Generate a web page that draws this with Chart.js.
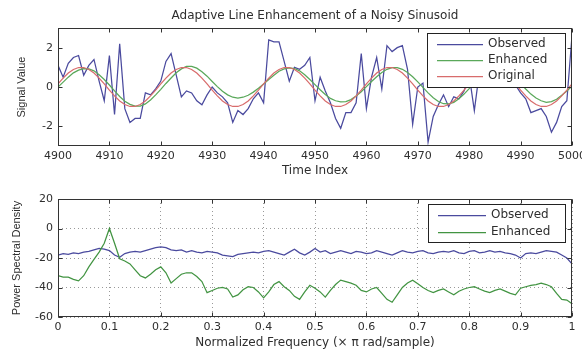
<!DOCTYPE html>
<html>
<head>
<meta charset="utf-8">
<script src="https://cdn.jsdelivr.net/npm/chart.js@4.4.1/dist/chart.umd.min.js"></script>
<style>
    html, body { margin: 0; padding: 0; background: #fff; }
    #wrap { position: relative; width: 582px; height: 351px; }
    #signalChart { position: absolute; left: 0; top: 0; }
    #psdChart { position: absolute; left: 0; top: 180px; }
</style>
</head>
<body>
<div id="wrap">
    <canvas id="signalChart" width="582" height="180"></canvas>
    <canvas id="psdChart" width="582" height="171"></canvas>
</div>
<script>
// --- Datos ---
const timeStart = 4900;
const timeTicks = [4900, 4910, 4920, 4930, 4940, 4950, 4960, 4970, 4980, 4990, 5000];
const signalTicks = [-2, 0, 2];

const observed = [
    1.1, 0.5, 1.2, 1.5, 1.6, 0.6, 1.1, 1.4, 0.3, -0.7,
    1.6, -1.4, 2.2, -1.1, -1.8, -1.6, -1.6, -0.3, -0.4, -0.1,
    0.3, 1.3, 1.7, 0.6, -0.5, -0.2, -0.3, -0.7, -0.9, -0.4,
    0.0, -0.3, -0.5, -0.8, -1.8, -1.2, -1.4, -1.1, -0.6, -0.3,
    -0.8, 2.4, 2.3, 2.3, 1.3, 0.3, 1.0, 0.9, 1.1, 1.5,
    -0.7, 0.5, -0.2, -0.8, -1.6, -2.1, -1.3, -1.3, -0.8, 1.7,
    -1.1, 0.5, 1.5, -0.1, 2.1, 1.8, 2.0, 2.1, 0.9, -1.9,
    0.0, 0.2, -2.8, -1.5, -0.9, -0.4, -1.0, -0.5, -0.6, -0.2,
    0.6, -1.2, 0.8, 1.5, 1.2, 2.0, 1.6, 0.9, 0.6, 0.1,
    -0.3, -0.6, -1.3, -1.2, -1.1, -1.5, -2.3, -1.8, -1.0, -0.7,
    2.6
];
const enhanced = [
    0.0, 0.25, 0.5, 0.72, 0.86, 0.93, 0.92, 0.82, 0.62, 0.38,
    0.1, -0.2, -0.48, -0.72, -0.88, -0.97, -0.97, -0.86, -0.66, -0.4,
    -0.12, 0.18, 0.46, 0.72, 0.92, 1.05, 1.05, 0.96, 0.78, 0.55,
    0.28, 0.02, -0.22, -0.4, -0.52, -0.56, -0.52, -0.42, -0.26, -0.06,
    0.15, 0.38, 0.6, 0.8, 0.92, 0.97, 0.94, 0.82, 0.62, 0.38,
    0.12, -0.14, -0.38, -0.58, -0.7, -0.76, -0.74, -0.64, -0.46, -0.24,
    0.02, 0.28, 0.52, 0.74, 0.9, 0.98, 0.98, 0.9, 0.74, 0.52,
    0.26, -0.02, -0.3, -0.55, -0.74, -0.85, -0.86, -0.78, -0.6, -0.36,
    -0.08, 0.22, 0.5, 0.74, 0.9, 0.98, 0.97, 0.88, 0.7, 0.46,
    0.18, -0.1, -0.36, -0.56, -0.7, -0.78, -0.74, -0.62, -0.42, -0.2,
    0.04
];
const original = [
    0.16, 0.45, 0.71, 0.89, 0.99, 0.99, 0.89, 0.71, 0.45, 0.16,
    -0.16, -0.45, -0.71, -0.89, -0.99, -0.99, -0.89, -0.71, -0.45, -0.16,
    0.16, 0.45, 0.71, 0.89, 0.99, 0.99, 0.89, 0.71, 0.45, 0.16,
    -0.16, -0.45, -0.71, -0.89, -0.99, -0.99, -0.89, -0.71, -0.45, -0.16,
    0.16, 0.45, 0.71, 0.89, 0.99, 0.99, 0.89, 0.71, 0.45, 0.16,
    -0.16, -0.45, -0.71, -0.89, -0.99, -0.99, -0.89, -0.71, -0.45, -0.16,
    0.16, 0.45, 0.71, 0.89, 0.99, 0.99, 0.89, 0.71, 0.45, 0.16,
    -0.16, -0.45, -0.71, -0.89, -0.99, -0.99, -0.89, -0.71, -0.45, -0.16,
    0.16, 0.45, 0.71, 0.89, 0.99, 0.99, 0.89, 0.71, 0.45, 0.16,
    -0.16, -0.45, -0.71, -0.89, -0.99, -0.99, -0.89, -0.71, -0.45, -0.16,
    0.16
];

// PSD en pasos de 0.01 (x pi rad/muestra)
const freqStep = 0.01;
const psdTicksX = [0, 0.1, 0.2, 0.3, 0.4, 0.5, 0.6, 0.7, 0.8, 0.9, 1];
const psdTicksY = [-60, -40, -20, 0, 20];
const psdObserved = [
    -18, -17, -17.5, -16.5, -17, -16, -15.5, -14.5, -13.5, -14,
    -15, -18, -19.5, -17, -16, -15.5, -16, -15, -14, -13,
    -12.5, -13, -14.5, -15, -14.5, -16, -15, -16, -16.5, -15.5,
    -16, -16.5, -18, -18.5, -19, -17.5, -17, -16.5, -16, -16.5,
    -15.5, -15, -16, -17, -18, -16, -14, -16.5, -18, -16,
    -13.5, -16, -15, -17, -16, -15, -16, -17, -15.5, -16,
    -17, -16.5, -15, -16, -17, -18, -16.5, -15, -16, -16.5,
    -15.5, -15, -16.5, -17, -16, -15.5, -16, -15, -16.5, -17,
    -15.5, -15, -16.5, -16, -15, -16, -15.5, -16.5, -17, -18,
    -20, -17, -16.5, -17, -16, -15, -15.5, -16, -18, -20,
    -24
];
const psdEnhanced = [
    -32, -33, -33, -34.5, -35.5, -32, -26, -21, -16, -10,
    0, -10, -20.5, -22, -24, -28, -32, -33.5, -31, -28,
    -26, -30, -37, -34, -31, -30, -30, -32.5, -36, -43.5,
    -42, -40.5, -40, -41, -46.5, -45, -41.5, -39.5, -40, -43,
    -47, -43, -38, -36, -39.5, -42, -46, -48, -43, -38.5,
    -40.5, -43, -46.5, -42, -38, -35, -36, -37, -38.5, -42,
    -43, -41, -40, -44, -48, -50, -45, -40, -37, -35,
    -37.5, -40, -42, -43.5, -42, -41, -43, -45, -42.5, -41,
    -40, -39.5, -41, -42.5, -43.5, -42, -41, -42.5, -44, -45,
    -40.5, -39.5, -38.5, -38, -37, -38, -39.5, -44, -48, -48.5,
    -51
];

// --- Estilo ---
const COLORS = {
    observed: '#4a4a9e',
    enhanced: '#5aa85a',
    enhancedPsd: '#429442',
    original: '#d86c6c',
    frame: '#333333',
    text: '#2e2e2e',
    grid: '#999999'
};
const tickFont = { family: 'DejaVu Sans', size: 11 };
const labelFont = { family: 'DejaVu Sans', size: 12 };
const yTitleFont = { family: 'Liberation Sans', size: 11 };

function toPoints(xs, ys) {
    return ys.map((v, i) => ({ x: xs[i], y: v }));
}
const timeIndex = observed.map((_, i) => timeStart + i);
const freqs = psdObserved.map((_, i) => +(i * freqStep).toFixed(2));

/**
 * Marco tipo MATLAB: caja, marcas hacia dentro y leyenda con fondo blanco
 */
const frameLegend = {
    id: 'frameLegend',
    afterDraw(chart, args, opts) {
        const { ctx, chartArea: a, scales } = chart;
        const L = Math.round(a.left) + 0.5, R = Math.round(a.right) - 0.5;
        const T = Math.round(a.top) + 0.5, B = Math.round(a.bottom) - 0.5;
        ctx.save();
        ctx.strokeStyle = COLORS.frame;
        ctx.lineWidth = 1;
        ctx.beginPath();
        scales.x.ticks.forEach(t => {
            const px = Math.round(scales.x.getPixelForValue(t.value)) + 0.5;
            ctx.moveTo(px, B); ctx.lineTo(px, B - 4);
            ctx.moveTo(px, T); ctx.lineTo(px, T + 4);
        });
        scales.y.ticks.forEach(t => {
            const py = Math.round(scales.y.getPixelForValue(t.value)) + 0.5;
            ctx.moveTo(L, py); ctx.lineTo(L + 4, py);
            ctx.moveTo(R, py); ctx.lineTo(R - 4, py);
        });
        ctx.stroke();
        ctx.strokeRect(L, T, R - L, B - T);

        // leyenda
        const b = opts.box;
        ctx.fillStyle = '#fff';
        ctx.fillRect(b.x, b.y, b.w, b.h);
        ctx.strokeStyle = '#222';
        ctx.strokeRect(b.x + 0.5, b.y + 0.5, b.w, b.h);
        ctx.font = '12px "DejaVu Sans"';
        ctx.textBaseline = 'middle';
        ctx.textAlign = 'left';
        chart.data.datasets.forEach((ds, i) => {
            const y = b.y + opts.firstRow + i * opts.rowGap;
            ctx.strokeStyle = ds.borderColor;
            ctx.lineWidth = ds.borderWidth;
            ctx.beginPath();
            ctx.moveTo(b.x + 10, y + 0.5);
            ctx.lineTo(b.x + opts.lineLen, y + 0.5);
            ctx.stroke();
            ctx.fillStyle = COLORS.text;
            ctx.fillText(ds.label, b.x + opts.lineLen + 5, y);
        });
        ctx.restore();
    }
};

function lineSet(label, data, color, order) {
    return {
        label: label,
        data: data,
        borderColor: color,
        borderWidth: 1.25,
        pointRadius: 0,
        tension: 0,
        fill: false,
        order: order
    };
}

// --- Gráfica superior: señal en el tiempo ---
new Chart(document.getElementById('signalChart'), {
    type: 'line',
    data: {
        datasets: [
            lineSet('Observed', toPoints(timeIndex, observed), COLORS.observed, 3),
            lineSet('Enhanced', toPoints(timeIndex, enhanced), COLORS.enhanced, 2),
            lineSet('Original', toPoints(timeIndex, original), COLORS.original, 1)
        ]
    },
    options: {
        responsive: false,
        animation: false,
        layout: { padding: { left: 0, right: 10, top: 0, bottom: 0 } },
        scales: {
            x: {
                type: 'linear',
                min: 4900,
                max: 5000,
                afterBuildTicks: s => { s.ticks = timeTicks.map(v => ({ value: v })); },
                afterFit: s => { s.height = 34; s.paddingLeft = 0; s.paddingRight = 0; },
                ticks: { color: COLORS.text, font: tickFont, padding: 4, maxRotation: 0, autoSkip: false, callback: v => String(v) },
                grid: { display: false, drawTicks: false },
                border: { display: false },
                title: { display: true, text: 'Time Index', color: COLORS.text, font: labelFont, padding: { top: 0, bottom: 2 } }
            },
            y: {
                min: -3,
                max: 3,
                afterBuildTicks: s => { s.ticks = signalTicks.map(v => ({ value: v })); },
                afterFit: s => { s.width = 58; s.paddingTop = 0; s.paddingBottom = 0; },
                ticks: { color: COLORS.text, font: tickFont, padding: 5 },
                grid: { display: false, drawTicks: false },
                border: { display: false },
                title: { display: true, text: 'Signal Value', color: COLORS.text, font: yTitleFont, padding: { top: 15, bottom: 0 } }
            }
        },
        plugins: {
            legend: { display: false },
            tooltip: { enabled: false },
            title: {
                display: true,
                fullSize: false,
                text: 'Adaptive Line Enhancement of a Noisy Sinusoid',
                color: COLORS.text,
                font: { family: 'DejaVu Sans', size: 12, weight: 'normal' },
                padding: { top: 9, bottom: 4.6 }
            },
            frameLegend: { box: { x: 427, y: 33, w: 138, h: 54 }, firstRow: 11, rowGap: 16, lineLen: 56 }
        }
    },
    plugins: [frameLegend]
});

// --- Gráfica inferior: densidad espectral ---
new Chart(document.getElementById('psdChart'), {
    type: 'line',
    data: {
        datasets: [
            lineSet('Observed', toPoints(freqs, psdObserved), COLORS.observed, 2),
            lineSet('Enhanced', toPoints(freqs, psdEnhanced), COLORS.enhancedPsd, 1)
        ]
    },
    options: {
        responsive: false,
        animation: false,
        layout: { padding: { left: 0, right: 10, top: 19, bottom: 0 } },
        scales: {
            x: {
                type: 'linear',
                min: 0,
                max: 1,
                afterBuildTicks: s => { s.ticks = psdTicksX.map(v => ({ value: v })); },
                afterFit: s => { s.height = 34; s.paddingLeft = 0; s.paddingRight = 0; },
                ticks: { color: COLORS.text, font: tickFont, padding: 4, maxRotation: 0, autoSkip: false, callback: v => String(+v.toFixed(1)) },
                grid: { display: true, color: COLORS.grid, lineWidth: 1, drawTicks: false },
                border: { display: false, dash: [1, 3] },
                title: { display: true, text: 'Normalized Frequency (\u00d7 \u03c0 rad/sample)', color: COLORS.text, font: labelFont, padding: { top: 0, bottom: 1 } }
            },
            y: {
                min: -60,
                max: 20,
                afterBuildTicks: s => { s.ticks = psdTicksY.map(v => ({ value: v })); },
                afterFit: s => { s.width = 58; s.paddingTop = 0; s.paddingBottom = 0; },
                ticks: { color: COLORS.text, font: tickFont, padding: 5 },
                grid: { display: true, color: COLORS.grid, lineWidth: 1, drawTicks: false },
                border: { display: false, dash: [1, 3] },
                title: { display: true, text: 'Power Spectral Density', color: COLORS.text, font: yTitleFont, padding: { top: 10, bottom: 0 } }
            }
        },
        plugins: {
            legend: { display: false },
            tooltip: { enabled: false },
            frameLegend: { box: { x: 428, y: 24, w: 137, h: 38 }, firstRow: 11, rowGap: 17, lineLen: 58 }
        }
    },
    plugins: [frameLegend]
});
</script>
</body>
</html>
